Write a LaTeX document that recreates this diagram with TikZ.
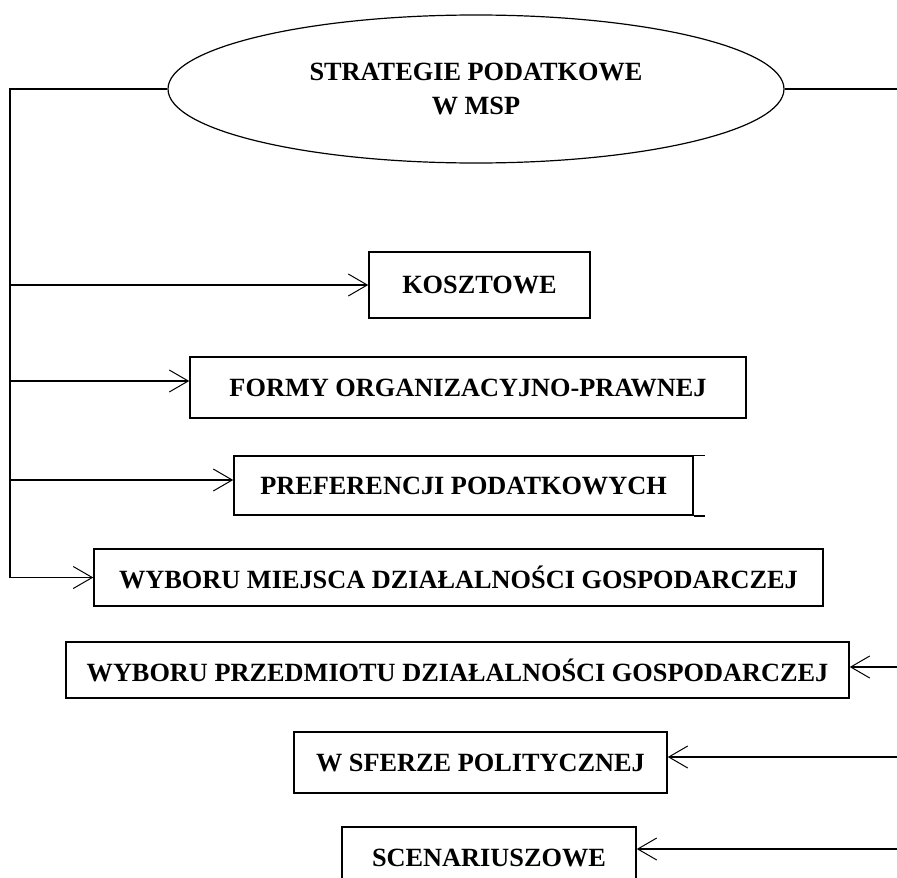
\documentclass[tikz,border=0pt]{standalone}
\usepackage{fontspec}
\setmainfont{Liberation Serif}
\usetikzlibrary{shapes.geometric,arrows.meta}
\begin{document}
\begin{tikzpicture}[x=1pt,y=-1pt,
  lbl/.style={font=\bfseries\fontsize{26.3}{34}\selectfont},
  box/.style={lbl,draw,line width=1.5pt,inner sep=0pt},
  link/.style={line width=1.5pt,line join=miter},
  arr/.style={link,-{Straight Barb[length=19pt,width=22pt,line width=1pt]}}]

% page area
\fill[white] (0,0) rectangle (897,878);
\useasboundingbox (0,0) rectangle (897,878);
\clip (0,0) rectangle (897,878);

% central ellipse
\node[lbl,ellipse,draw,line width=1.2pt,inner sep=0pt,align=center,
      minimum width=616pt,minimum height=148pt] (el) at (476,89)
      {STRATEGIE PODATKOWE\\W MSP};

% strategy boxes
\node[box,minimum width=221pt,minimum height=66pt] (ko) at (479.5,285) {KOSZTOWE};
\node[box,minimum width=556pt,minimum height=61pt] (fo) at (468,387.5) {FORMY ORGANIZACYJNO-PRAWNEJ};
\node[box,minimum width=459pt,minimum height=59pt] (pr) at (463.5,485.5) {PREFERENCJI PODATKOWYCH};
\node[box,minimum width=729pt,minimum height=57pt] (wm) at (458.5,577.5) {WYBORU MIEJSCA DZIAŁALNOŚCI GOSPODARCZEJ};
\node[box,minimum width=783pt,minimum height=56pt] (wp) at (457.5,670) {WYBORU PRZEDMIOTU DZIAŁALNOŚCI GOSPODARCZEJ};
\node[box,minimum width=373pt,minimum height=61pt] (ws) at (480.5,762.5) {W SFERZE POLITYCZNEJ};
\node[box,minimum width=294pt,minimum height=61pt] (sc) at (489,857.5) {SCENARIUSZOWE};

% overhanging edges of the PREFERENCJI box
\draw[link] (pr.north east) -- ++(11,0);
\draw[link] (pr.south east) -- ++(11,0);

% left spine
\coordinate (spine) at (10,89);
\coordinate (foin) at ([yshift=6.5pt]fo.west);
\coordinate (prin) at ([yshift=5.5pt]pr.west);
\draw[arr] (el.west) -- (spine) -- (spine |- wm.west) -- (wm.west);
\draw[arr] (spine |- ko.west) -- (ko.west);
\draw[arr] (spine |- foin) -- (foin);
\draw[arr] (spine |- prin) -- (prin);

% right side
\coordinate (rx) at (897,89);
\coordinate (wpin) at ([yshift=3pt]wp.east);
\coordinate (wsin) at ([yshift=5.5pt]ws.east);
\coordinate (scin) at ([yshift=8.5pt]sc.east);
\draw[link] (el.east) -- (rx);
\draw[arr] (rx |- wpin) -- (wpin);
\draw[arr] (rx |- wsin) -- (wsin);
\draw[arr] (rx |- scin) -- (scin);
\end{tikzpicture}
\end{document}
